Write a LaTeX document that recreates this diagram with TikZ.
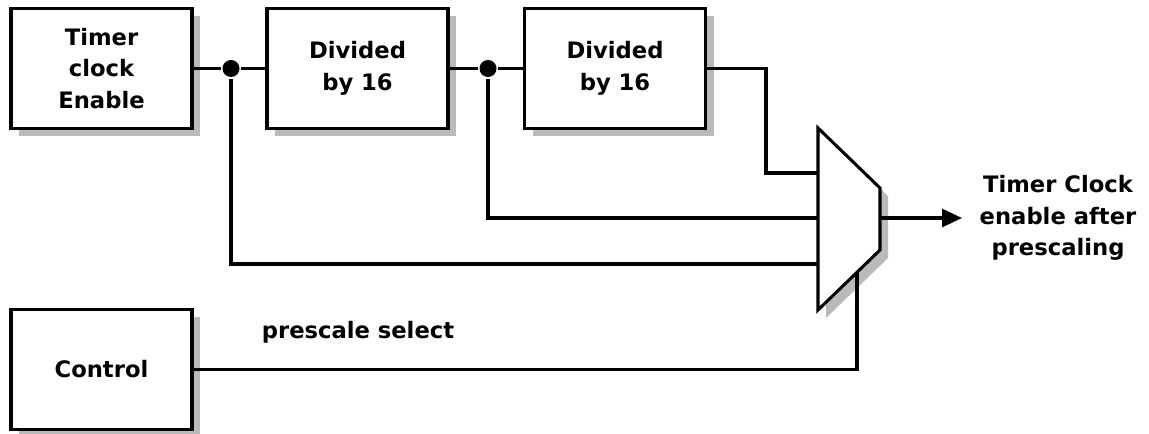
\documentclass[tikz,border=0pt]{standalone}
\usepackage{fontspec}
\setmainfont{DejaVu Sans}
\usetikzlibrary{shadows,arrows.meta}

\tikzset{
  shade box/.style={drop shadow={shadow xshift=6pt, shadow yshift=-6pt, fill=black!27, opacity=1}},
  block/.style={draw, fill=white, shade box, minimum width=135.75pt, minimum height=90pt,
    align=center, inner sep=0pt},
  junction/.style={circle, fill, inner sep=0pt, minimum size=12.75pt},
}

\begin{document}
\begin{tikzpicture}[x=0.75pt, y=-0.75pt, line width=2.3pt,
    font=\bfseries\fontsize{17}{23.5}\selectfont]
    \useasboundingbox (0,0) rectangle (1149,434);

    % Blocks
    \node[block] (clk)  at (101.5,68.5) {Timer\\clock\\Enable};
    \node[block] (div1) at (357.5,68.5) {Divided\\by 16};
    \node[block] (div2) at (615,68.5)   {Divided\\by 16};
    \node[block] (ctrl) at (101.5,369.5) {Control};

    % Taps between the dividers
    \node[junction] (j1) at (231,68.5) {};
    \node[junction] (j2) at (488,68.5) {};

    % Multiplexer
    \filldraw[fill=white, shade box] (818,128) -- (880,188) -- (880,250) -- (818,310) -- cycle;
    \coordinate (in1) at (818,173);
    \coordinate (in2) at (818,218);
    \coordinate (in3) at (818,264);
    \coordinate (out) at (880,218);
    \coordinate (sel) at (857,272.3);
    \coordinate (bend) at (766,68.5);
    \coordinate (tip) at (962,218);

    % Wires
    \draw (clk.east) -- (j1) -- (div1.west);
    \draw (div1.east) -- (j2) -- (div2.west);
    \draw (div2.east) -- (bend) |- (in1);
    \draw (j2) |- (in2);
    \draw (j1) |- (in3);
    \draw (ctrl.east) -| (sel);
    \draw[-{Triangle[length=15pt, width=13.5pt]}] (out) -- (tip);

    % Labels
    \node (selname) at (358,332) {prescale select};
    \node[align=center] (result) at (1058,218) {Timer Clock\\enable after\\prescaling};
\end{tikzpicture}
\end{document}
